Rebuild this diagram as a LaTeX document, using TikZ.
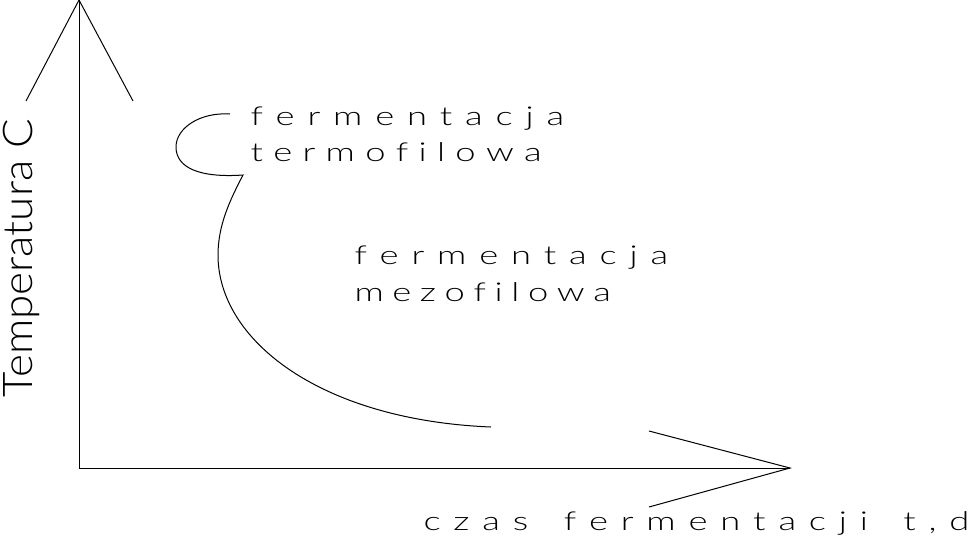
\documentclass[tikz,border=0pt]{standalone}
\usepackage{fontspec}
\IfFontExistsTF{Lato Light}
  {\newfontfamily\cadfont{Lato Light}[FakeStretch=1.4]
   \newfontfamily\cadfontv{Lato Light}[FakeStretch=1.07]}
  {\newfontfamily\cadfont{DejaVu Sans}[FakeStretch=1.2]
   \newfontfamily\cadfontv{DejaVu Sans}}
\newdimen\trackgap \trackgap=12.8pt
\makeatletter
\newcommand\spread[1]{\@tfor\spr@c:=#1\do{\spr@c\kern\trackgap}}
\makeatother
\tikzset{
	lbl/.style  = {anchor=base west, inner sep=0pt, font=\cadfont\fontsize{26}{26}\selectfont},
	vlbl/.style = {anchor=base west, inner sep=0pt, rotate=90, font=\cadfontv\fontsize{41}{41}\selectfont},
}
\begin{document}
\begin{tikzpicture}[x=1pt,y=-1pt,line width=1pt]
	\useasboundingbox (0,0) rectangle (978,539);
	% axes
	\coordinate (O)    at ( 79,468);
	\coordinate (ytip) at ( 79,  0);
	\coordinate (yl)   at ( 26,101);
	\coordinate (yr)   at (133,101);
	\coordinate (xtip) at (790,468);
	\coordinate (xu)   at (649,431);
	\coordinate (xd)   at (649,507);
	\draw (ytip) -- (O) -- (xtip);
	\draw (yl) -- (ytip) -- (yr);
	\draw (xu) -- (xtip) -- (xd);
	% labels
	\node (ftermo) at (250,125) [lbl] {\spread{fermentacja}};
	\node (termo)  at (250,161) [lbl] {\trackgap=10.3pt\spread{termofilowa}};
	\node (fmezo)  at (354,264) [lbl] {\spread{fermentacja}};
	\node (mezo)   at (354,301) [lbl] {\trackgap=8.6pt\spread{mezofilowa}};
	\node (czas)   at (423,530) [lbl] {\spread{czas~fermentacji~t,d}};
	\node (temp)   at ( 32,398) [vlbl] {Temperatura C};
	% curve
	\coordinate (c0) at (230,114);
	\coordinate (c1) at (176,147);
	\coordinate (c2) at (243,175);
	\coordinate (c3) at (218,255);
	\coordinate (c4) at (491,427);
	\draw (c0) .. controls (200,112) and (176,128) .. (c1)
	           .. controls (176,168) and (200,178) .. (c2)
	           .. controls (230,200) and (218,225) .. (c3)
	           .. controls (218,340) and (320,420) .. (c4);
\end{tikzpicture}
\end{document}
